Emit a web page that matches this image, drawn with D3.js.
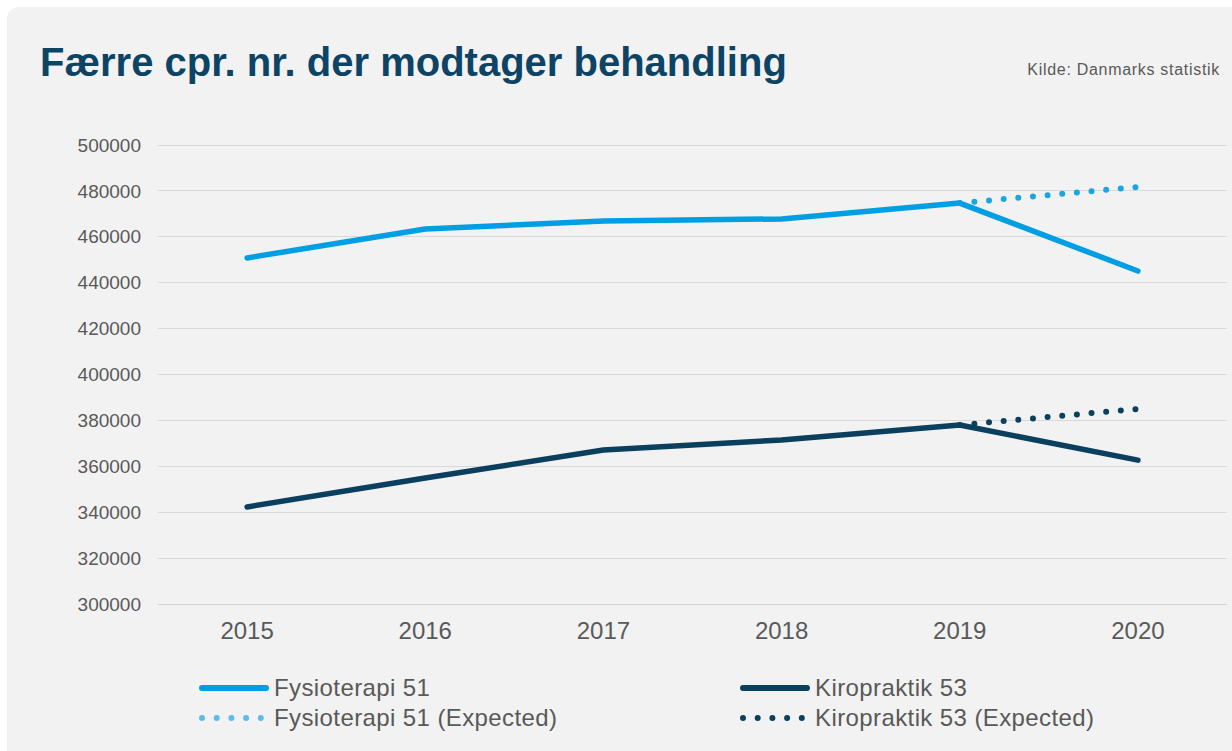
<!DOCTYPE html>
<html><head><meta charset="utf-8">
<script src="https://cdn.jsdelivr.net/npm/d3@7"></script>
<style>html,body{margin:0;padding:0;background:#fff;}svg{display:block;}</style>
</head><body>
<svg id="c" width="1232" height="751"></svg>
<script>
const years = ["2015","2016","2017","2018","2019","2020"];
const fysio = [450800, 463400, 466900, 467800, 474700, 445100];
const kiro = [342300, 354900, 367100, 371500, 378000, 362700];
const fysioExpYears = ["2019","2020"];
const fysioExp = [474700, 481700];
const kiroExpYears = ["2019","2020"];
const kiroExp = [378000, 385000];
const yTicks = [300000,320000,340000,360000,380000,400000,420000,440000,460000,480000,500000];

const svg = d3.select("#c");
const font = "'Liberation Sans', Arial, sans-serif";
svg.append("rect").attr("x",7).attr("y",7).attr("width",1240).attr("height",760).attr("rx",12).attr("fill","#f2f2f2");

const x = d3.scalePoint().domain(years).range([158,1227]).padding(0.5);
const y = d3.scaleLinear().domain([300000,500000]).range([604,145]);

// grid
svg.append("g").selectAll("line").data(yTicks).join("line")
  .attr("x1",158).attr("x2",1227).attr("y1",d=>y(d)).attr("y2",d=>y(d))
  .attr("stroke",d=>d===300000?"#d0d0d0":"#d9d9d9").attr("stroke-width",1).attr("shape-rendering","crispEdges");

// y labels
svg.append("g").selectAll("text").data(yTicks).join("text")
  .attr("x",141).attr("y",d=>y(d)).attr("dy","0.35em").attr("text-anchor","end")
  .attr("font-family",font).attr("font-size",19).attr("fill","#595959").text(d=>d);

// x labels
svg.append("g").selectAll("text").data(years).join("text")
  .attr("x",d=>x(d)).attr("y",639).attr("text-anchor","middle")
  .attr("font-family",font).attr("font-size",24).attr("fill","#595959").text(d=>d);

const line = d3.line().x(d=>x(d[0])).y(d=>y(d[1]));
const lightBlue = "#009fe3", navy = "#0a3f5e";
function draw(ys, vs, color, dotted){
  const p = svg.append("path").datum(ys.map((yy,i)=>[yy,vs[i]])).attr("d",line)
    .attr("fill","none").attr("stroke",color).attr("stroke-linecap","round").attr("stroke-linejoin","round");
  if(dotted){ p.attr("stroke-width",6).attr("stroke-dasharray","0 14.7"); }
  else p.attr("stroke-width",5.5);
}
draw(fysioExpYears, fysioExp, "#1aa6e2", true);
draw(kiroExpYears, kiroExp, navy, true);
draw(years, fysio, lightBlue, false);
draw(years, kiro, navy, false);

// title
svg.append("text").attr("x",40).attr("y",76).attr("font-family",font).attr("font-weight","bold")
  .attr("font-size",40).attr("fill","#0d4466").text("Færre cpr. nr. der modtager behandling");
svg.append("text").attr("x",1220).attr("y",75).attr("text-anchor","end").attr("font-family",font)
  .attr("font-size",16).attr("letter-spacing",0.7).attr("fill","#595959").text("Kilde: Danmarks statistik");

// legend
const legend = [
  {name:"Fysioterapi 51", color:lightBlue, dotted:false, x:200, y:688},
  {name:"Kiropraktik 53", color:navy, dotted:false, x:741, y:688},
  {name:"Fysioterapi 51 (Expected)", color:"#5cbde9", dotted:true, x:200, y:718},
  {name:"Kiropraktik 53 (Expected)", color:navy, dotted:true, x:741, y:718}
];
legend.forEach(l=>{
  const ln = svg.append("line").attr("x1",l.x+2).attr("x2",l.x+66).attr("y1",l.y).attr("y2",l.y)
    .attr("stroke",l.color).attr("stroke-linecap","round");
  if(l.dotted) ln.attr("stroke-width",6).attr("stroke-dasharray","0 14.7");
  else ln.attr("stroke-width",6);
  svg.append("text").attr("x",l.x+74).attr("y",l.y).attr("dy","0.35em").attr("font-family",font)
    .attr("font-size",24).attr("letter-spacing",0.4).attr("fill","#595959").text(l.name);
});
</script>
</body></html>
